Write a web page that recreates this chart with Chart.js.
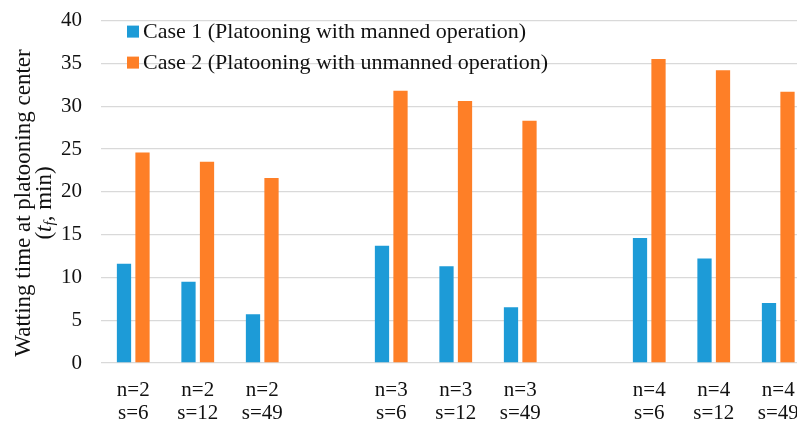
<!DOCTYPE html>
<html>
<head>
<meta charset="utf-8">
<script src="https://cdn.jsdelivr.net/npm/chart.js@4"></script>
<style>
  html, body { margin: 0; padding: 0; background: #fff; }
  #wrap { width: 797px; height: 426px; overflow: hidden; }
  #box { width: 812px; height: 444px; margin-top: -11px; }
</style>
</head>
<body>
<div id="wrap"><div id="box"><canvas id="chart"></canvas></div></div>
<script>
  // data ('' / null = spacer between groups)
  const nLabels = ['n=2', 'n=2', 'n=2', '', 'n=3', 'n=3', 'n=3', '', 'n=4', 'n=4', 'n=4'];
  const sLabels = ['s=6', 's=12', 's=49', '', 's=6', 's=12', 's=49', '', 's=6', 's=12', 's=49'];
  const case1 = [11.6, 9.5, 5.7, null, 13.7, 11.3, 6.5, null, 14.6, 12.2, 7.0];
  const case2 = [24.6, 23.5, 21.6, null, 31.8, 30.6, 28.3, null, 35.5, 34.2, 31.7];
  const yTicks = [0, 5, 10, 15, 20, 25, 30, 35, 40];

  const labels = nLabels.map((n, i) => n ? [n, sLabels[i]] : '');
  const FONT = "'Liberation Serif', 'Times New Roman', serif";
  const INK = '#111';
  const SHIFT = 11; // canvas is pulled up by this much

  // legend drawn inside the plot, top-left
  const innerLegend = {
    id: 'innerLegend',
    afterDatasetsDraw(chart) {
      const ctx = chart.ctx;
      ctx.save();
      ctx.font = '22px ' + FONT;
      ctx.textBaseline = 'middle';
      chart.data.datasets.forEach((ds, i) => {
        const y = chart.chartArea.top + 11 + i * 31;
        ctx.fillStyle = ds.backgroundColor;
        ctx.fillRect(127, y - 6, 12, 12);
        ctx.fillStyle = INK;
        ctx.fillText(ds.label, 143, y + 1);
      });
      ctx.restore();
    }
  };

  // two-line rotated y title with italic t_f
  const yTitle = {
    id: 'yTitle',
    afterDraw(chart) {
      const ctx = chart.ctx;
      const cy = 203 + SHIFT;
      ctx.save();
      ctx.fillStyle = INK;
      ctx.textBaseline = 'middle';
      ctx.translate(24, cy);
      ctx.rotate(-Math.PI / 2);
      ctx.font = '23px ' + FONT;
      ctx.textAlign = 'center';
      ctx.fillText('Watting time at platooning center', 0, 0);
      // second line, pieced together
      const parts = [
        { t: '(', f: '23px ' + FONT, dy: 0 },
        { t: 't', f: 'italic 23px ' + FONT, dy: 0 },
        { t: 'f', f: 'italic 15px ' + FONT, dy: 5 },
        { t: ', min)', f: '23px ' + FONT, dy: 0 }
      ];
      let total = 0;
      parts.forEach(p => { ctx.font = p.f; p.w = ctx.measureText(p.t).width; total += p.w; });
      ctx.textAlign = 'left';
      let x = -total / 2;
      parts.forEach(p => { ctx.font = p.f; ctx.fillText(p.t, x, 21 + p.dy); x += p.w; });
      ctx.restore();
    }
  };

  new Chart(document.getElementById('chart'), {
    type: 'bar',
    data: {
      labels: labels,
      datasets: [
        { label: 'Case 1 (Platooning with manned operation)', data: case1, backgroundColor: '#1d9bd7' },
        { label: 'Case 2 (Platooning with unmanned operation)', data: case2, backgroundColor: '#fe7f27' }
      ]
    },
    options: {
      responsive: true,
      maintainAspectRatio: false,
      animation: false,
      layout: { padding: { top: 8, right: 1.5, bottom: 0, left: 0 } },
      datasets: { bar: { categoryPercentage: 0.574, barPercentage: 0.77, borderWidth: 0 } },
      plugins: { legend: { display: false }, tooltip: { enabled: false } },
      scales: {
        x: {
          grid: { display: false },
          border: { display: false },
          ticks: {
            color: INK, padding: 8, maxRotation: 0, autoSkip: false,
            font: { family: FONT, size: 21, lineHeight: '23px' }
          }
        },
        y: {
          min: 0, max: 40,
          afterFit(scale) { scale.width = 101; },
          afterBuildTicks(scale) { scale.ticks = yTicks.map(v => ({ value: v })); },
          grid: { color: '#d9d9d9', lineWidth: 1.3, drawTicks: false },
          border: { display: false },
          ticks: { color: INK, padding: 19, font: { family: FONT, size: 21 } }
        }
      }
    },
    plugins: [innerLegend, yTitle]
  });
</script>
</body>
</html>
